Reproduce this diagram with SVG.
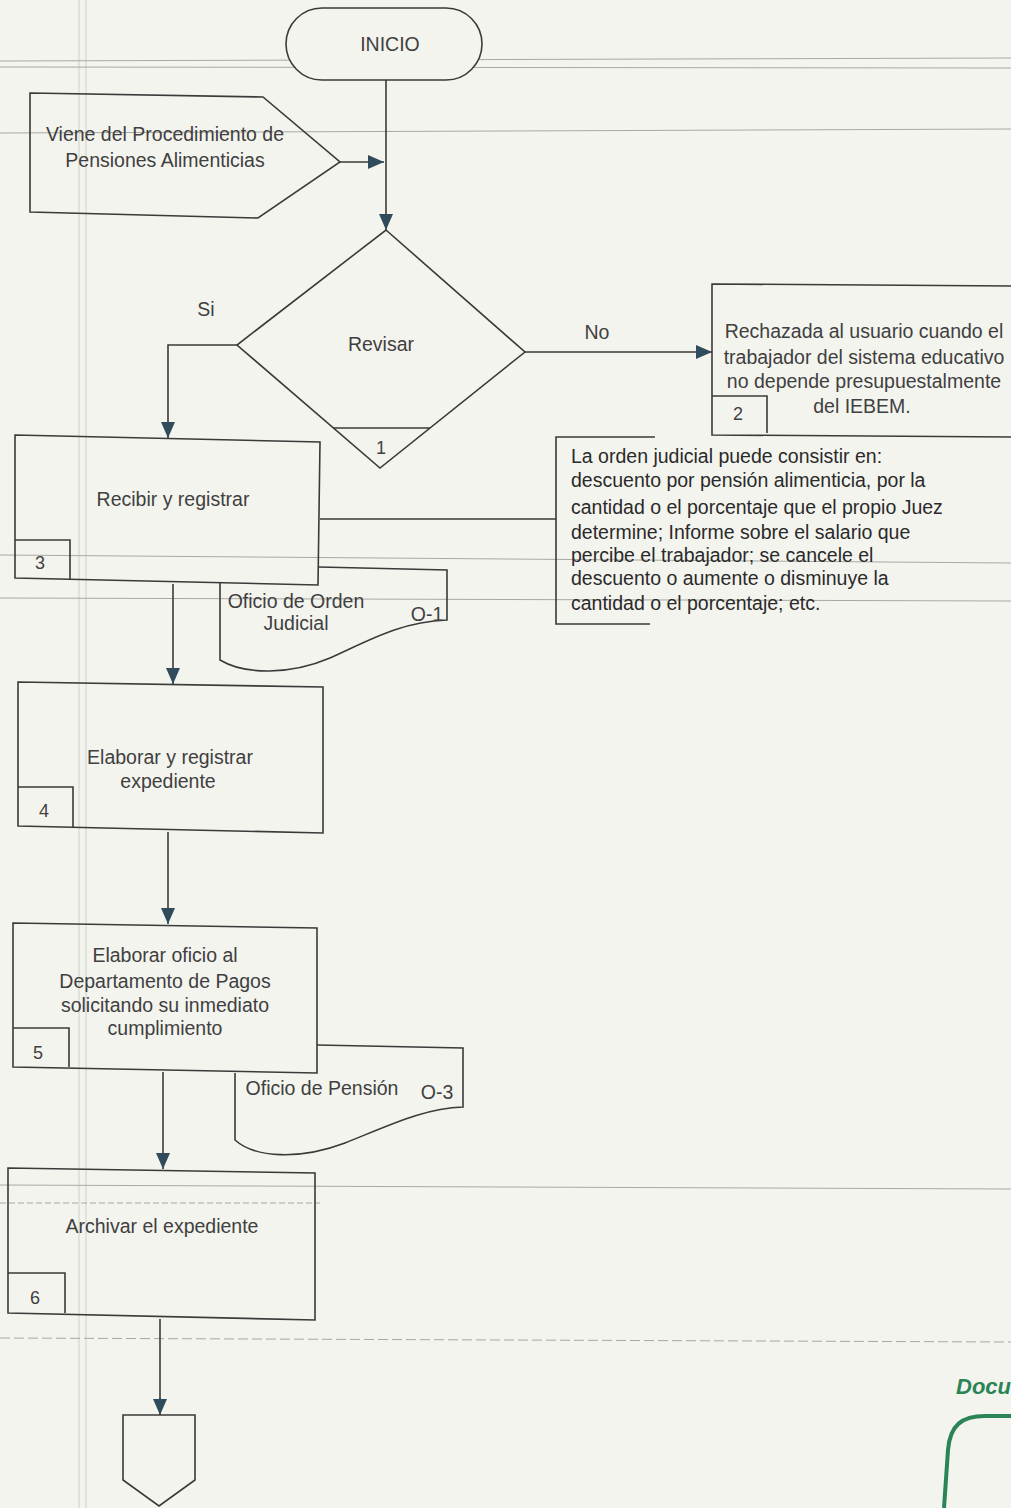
<svg xmlns="http://www.w3.org/2000/svg" width="1011" height="1508" viewBox="0 0 1011 1508">
  <defs>
    <marker id="ah" viewBox="0 0 16 14" refX="16" refY="7" markerWidth="16" markerHeight="14" markerUnits="userSpaceOnUse" orient="auto">
      <path d="M0,0 L16,7 L0,14 z" fill="#2f4b5c"/>
    </marker>
    <style>
      .shape { fill: none; stroke: #3a3a3a; stroke-width: 1.6; }
      .filled { fill: #f4f4ef; stroke: #3a3a3a; stroke-width: 1.6; }
      .conn { fill: none; stroke: #3a3a3a; stroke-width: 1.6; }
      .arrow { fill: none; stroke: #3a3a3a; stroke-width: 1.6; marker-end: url(#ah); }
      .rule { stroke: #a8a8a4; stroke-width: 1; fill: none; }
      .vrule { stroke: #e2e2dc; stroke-width: 2; fill: none; }
      text { font-family: "Liberation Sans", Arial, sans-serif; font-size: 19.5px; fill: #404040; }
      .c { text-anchor: middle; }
      .num { font-size: 18px; }
      .note { font-size: 19.5px; fill: #2a2a2a; }
    </style>
  </defs>

  <!-- paper -->
  <rect x="0" y="0" width="1011" height="1508" fill="#f4f4ef"/>

  <!-- ruled lines of the form sheet -->
  <g id="sheet-rules">
    <line class="vrule" x1="79" y1="0" x2="79" y2="1508"/>
    <line class="vrule" x1="86" y1="0" x2="86" y2="1508"/>
    <line class="rule" x1="0" y1="61" x2="1011" y2="58"/>
    <line class="rule" x1="0" y1="67" x2="1011" y2="68"/>
    <line class="rule" x1="0" y1="133" x2="1011" y2="129"/>
    <line class="rule" x1="0" y1="555" x2="1011" y2="563"/>
    <line class="rule" x1="0" y1="598" x2="1011" y2="601"/>
    <line class="rule" x1="0" y1="1185" x2="1011" y2="1189"/>
    <line class="rule" x1="0" y1="1203" x2="320" y2="1203" stroke-dasharray="6 3"/>
    <line class="rule" x1="0" y1="1338" x2="1011" y2="1342" stroke-dasharray="10 4"/>
  </g>

  <!-- connectors -->
  <g id="connectors">
    <path class="arrow" d="M340,162 L384,162"/>
    <path class="arrow" d="M386,80 L386,230"/>
    <path class="arrow" d="M237,345 L168,345 L168,438"/>
    <path class="arrow" d="M525,352 L712,352"/>
    <path class="conn" d="M320,519 L556,519"/>
    <path class="arrow" d="M173,584 L173,684"/>
    <path class="arrow" d="M168,832 L168,924"/>
    <path class="arrow" d="M163,1072 L163,1169"/>
    <path class="conn" d="M160,1319 L160,1400" stroke="#34508a"/>
    <path class="arrow" d="M160,1398 L160,1415"/>
  </g>

  <g id="n-inicio">
    <rect class="filled" x="286" y="8" width="196" height="72" rx="36" ry="36"/>
    <text class="c" x="390" y="51">INICIO</text>
  </g>

  <g id="n-viene">
    <polygon class="shape" points="30,93 263,97 340,162 258,218 30,212"/>
    <text class="c" x="165" y="141">Viene del Procedimiento de</text>
    <text class="c" x="165" y="167">Pensiones Alimenticias</text>
  </g>

  <g id="n-revisar">
    <polygon class="shape" points="386,230 525,352 380,468 237,345"/>
    <line class="shape" x1="333" y1="428" x2="430" y2="428"/>
    <text class="c" x="381" y="351">Revisar</text>
    <text class="c num" x="381" y="454">1</text>
  </g>

  <g id="lbl-si"><text class="c" x="206" y="316">Si</text></g>
  <g id="lbl-no"><text class="c" x="597" y="339">No</text></g>

  <g id="n-rechazada">
    <polyline class="shape" points="1020,286 712,284 712,435 1020,437"/>
    <polyline class="shape" points="712,396 767,396 767,433"/>
    <text class="c" x="864" y="338">Rechazada al usuario cuando el</text>
    <text class="c" x="864" y="364">trabajador del sistema educativo</text>
    <text class="c" x="864" y="388">no depende presupuestalmente</text>
    <text class="c" x="862" y="413">del IEBEM.</text>
    <text class="c num" x="738" y="420">2</text>
  </g>

  <g id="n-nota">
    <polyline class="shape" points="655,437 556,437 556,624 650,624"/>
    <text class="note" x="571" y="463">La orden judicial puede consistir en:</text>
    <text class="note" x="571" y="487">descuento por pensión alimenticia, por la</text>
    <text class="note" x="571" y="514">cantidad o el porcentaje que el propio Juez</text>
    <text class="note" x="571" y="539">determine; Informe sobre el salario que</text>
    <text class="note" x="571" y="562">percibe el trabajador; se cancele el</text>
    <text class="note" x="571" y="585">descuento o aumente o disminuye la</text>
    <text class="note" x="571" y="610">cantidad o el porcentaje; etc.</text>
  </g>

  <g id="n-oficio-orden">
    <path class="shape" d="M319,567 L447,570 L447,620 C400,622 370,640 330,658 C290,675 245,675 220,660 L220,582"/>
    <text class="c" x="296" y="608">Oficio de Orden</text>
    <text class="c" x="296" y="630">Judicial</text>
    <text class="c" x="427" y="621">O-1</text>
  </g>

  <g id="n-recibir">
    <polygon class="shape" points="15,435 320,442 318,585 15,578"/>
    <polyline class="shape" points="15,540 70,540 70,580"/>
    <text class="c" x="173" y="506">Recibir y registrar</text>
    <text class="c num" x="40" y="569">3</text>
  </g>

  <g id="n-expediente">
    <polygon class="shape" points="18,682 323,687 323,833 18,826"/>
    <polyline class="shape" points="18,787 73,787 73,827"/>
    <text class="c" x="170" y="764">Elaborar y registrar</text>
    <text class="c" x="168" y="788">expediente</text>
    <text class="c num" x="44" y="817">4</text>
  </g>

  <g id="n-oficio-pension">
    <path class="shape" d="M317,1045 L463,1048 L463,1107 C425,1108 390,1125 345,1143 C300,1160 255,1158 235,1140 L235,1073"/>
    <text class="c" x="322" y="1095">Oficio de Pensión</text>
    <text class="c" x="437" y="1099">O-3</text>
  </g>

  <g id="n-elaborar-oficio">
    <polygon class="shape" points="13,923 317,928 317,1073 13,1067"/>
    <polyline class="shape" points="13,1028 69,1028 69,1067"/>
    <text class="c" x="165" y="962">Elaborar oficio al</text>
    <text class="c" x="165" y="988">Departamento de Pagos</text>
    <text class="c" x="165" y="1012">solicitando su inmediato</text>
    <text class="c" x="165" y="1035">cumplimiento</text>
    <text class="c num" x="38" y="1059">5</text>
  </g>

  <g id="n-archivar">
    <polygon class="shape" points="8,1168 315,1173 315,1320 8,1313"/>
    <polyline class="shape" points="8,1273 65,1273 65,1313"/>
    <text class="c" x="162" y="1233">Archivar el expediente</text>
    <text class="c num" x="35" y="1304">6</text>
  </g>

  <g id="n-fin">
    <polygon class="shape" points="123,1415 195,1415 195,1480 159,1506 123,1480"/>
  </g>

  <!-- green stamp in the lower right corner -->
  <g id="stamp">
    <text x="956" y="1394" style="font-family:'Liberation Sans',sans-serif;font-size:22px;font-weight:bold;font-style:italic;fill:#2a8456">Docu</text>
    <path d="M944,1508 L948,1450 C950,1425 962,1416 985,1416 L1011,1416" fill="none" stroke="#2a8456" stroke-width="4"/>
  </g>
</svg>
